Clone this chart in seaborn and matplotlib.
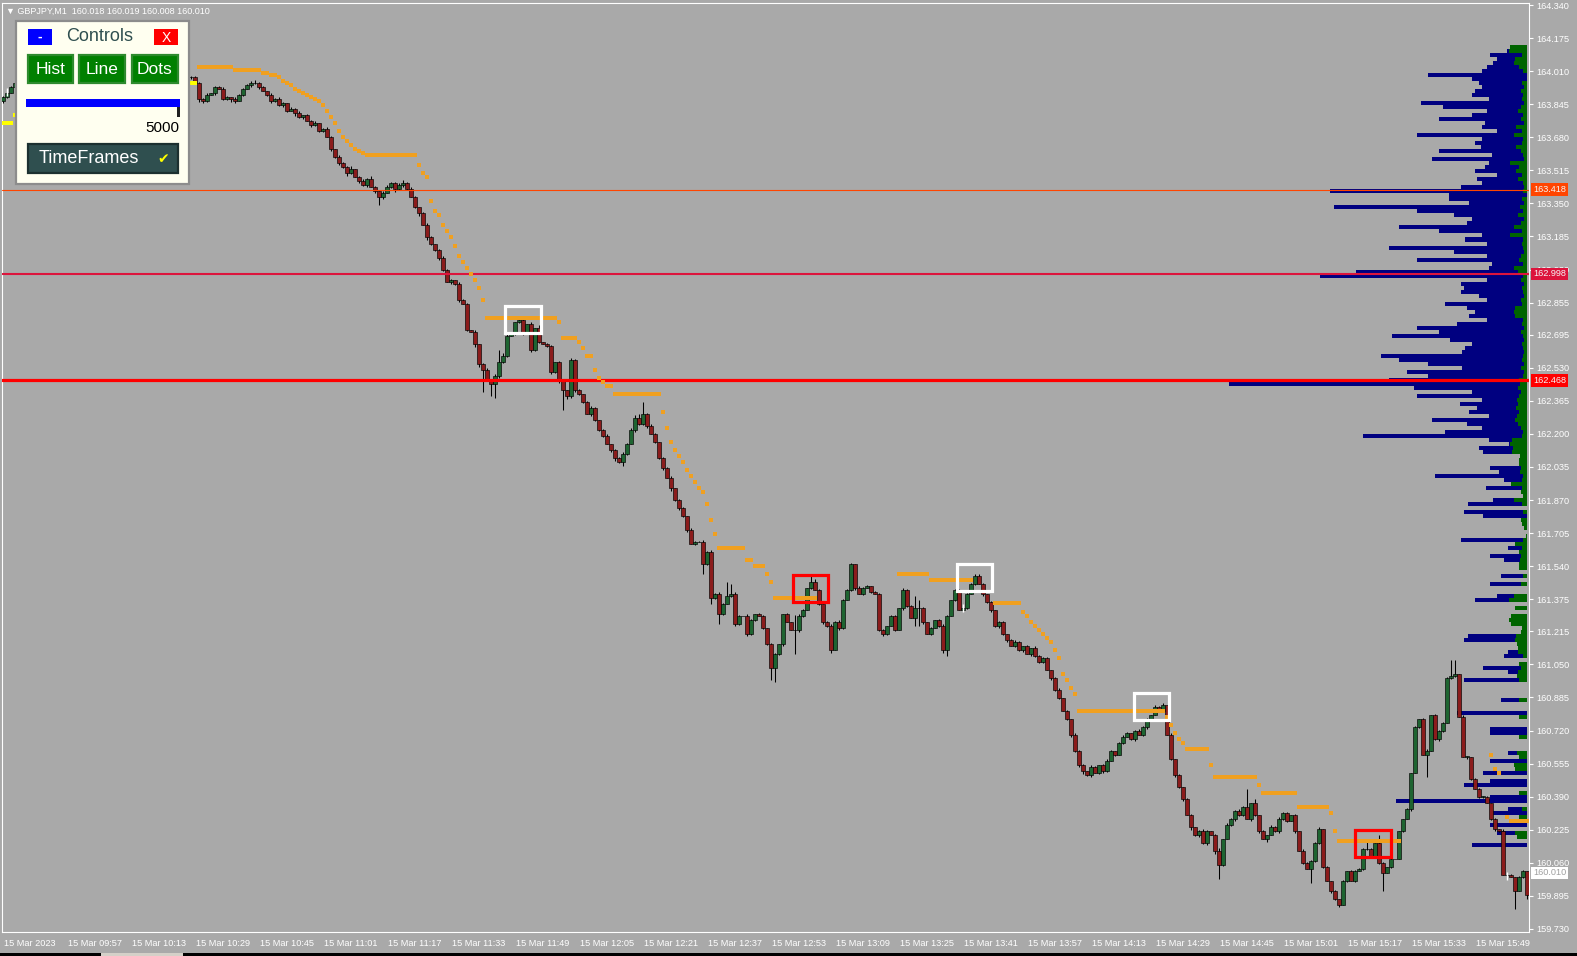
import numpy as np
import matplotlib
matplotlib.use('Agg')
import matplotlib.pyplot as plt
import matplotlib.transforms as mtransforms
from matplotlib.patches import Rectangle
import seaborn as sns

# ---- data (GBPJPY M1, 15 Mar 2023, bar 0 = 09:41) ----
closes = [
    163.88, 163.90, 163.93, 163.95, 163.96, 163.98, 163.97, 164.00, 164.02, 164.01,
    164.03, 164.05, 164.04, 164.06, 164.08, 164.07, 164.05, 164.06, 164.08, 164.10,
    164.09, 164.07, 164.08, 164.06, 164.05, 164.07, 164.09, 164.08, 164.06, 164.04,
    164.05, 164.03, 164.02, 164.04, 164.05, 164.03, 164.01, 164.02, 164.04, 164.03,
    164.01, 164.00, 164.02, 164.03, 164.01, 164.00, 163.98, 163.98, 163.95, 163.87,
    163.86, 163.89, 163.90, 163.93, 163.92, 163.87, 163.88, 163.87, 163.86, 163.89,
    163.92, 163.94, 163.95, 163.95, 163.93, 163.91, 163.89, 163.86, 163.87, 163.84,
    163.85, 163.81, 163.82, 163.80, 163.78, 163.79, 163.76, 163.74, 163.75, 163.71,
    163.72, 163.68, 163.62, 163.58, 163.55, 163.53, 163.50, 163.52, 163.48, 163.46,
    163.44, 163.47, 163.43, 163.41, 163.38, 163.40, 163.43, 163.45, 163.42, 163.44,
    163.45, 163.42, 163.38, 163.33, 163.30, 163.24, 163.18, 163.15, 163.12, 163.08,
    163.02, 162.96, 162.97, 162.95, 162.87, 162.85, 162.72, 162.71, 162.65, 162.55,
    162.52, 162.47, 162.45, 162.49, 162.56, 162.59, 162.69, 162.70, 162.76, 162.77,
    162.70, 162.75, 162.62, 162.73, 162.66, 162.65, 162.64, 162.51, 162.56, 162.47,
    162.42, 162.39, 162.57, 162.42, 162.40, 162.36, 162.30, 162.33, 162.27, 162.22,
    162.19, 162.15, 162.12, 162.08, 162.06, 162.10, 162.15, 162.22, 162.28, 162.25,
    162.30, 162.24, 162.20, 162.16, 162.08, 162.03, 161.98, 161.93, 161.87, 161.83,
    161.79, 161.72, 161.65, 161.66, 161.66, 161.55, 161.61, 161.38, 161.40, 161.30,
    161.35, 161.39, 161.40, 161.25, 161.29, 161.29, 161.20, 161.27, 161.30, 161.29,
    161.23, 161.15, 161.03, 161.10, 161.15, 161.30, 161.26, 161.22, 161.22, 161.29,
    161.32, 161.43, 161.46, 161.42, 161.35, 161.26, 161.24, 161.12, 161.26, 161.23,
    161.37, 161.42, 161.55, 161.43, 161.40, 161.43, 161.44, 161.41, 161.40, 161.22,
    161.20, 161.24, 161.29, 161.22, 161.33, 161.42, 161.34, 161.28, 161.33, 161.33,
    161.26, 161.20, 161.23, 161.27, 161.24, 161.12, 161.29, 161.37, 161.42, 161.32,
    161.33, 161.40, 161.45, 161.49, 161.45, 161.40, 161.36, 161.32, 161.24, 161.26,
    161.20, 161.17, 161.14, 161.16, 161.12, 161.14, 161.10, 161.13, 161.09, 161.06,
    161.08, 161.02, 160.98, 160.92, 160.88, 160.82, 160.78, 160.70, 160.62, 160.55,
    160.52, 160.50, 160.54, 160.51, 160.55, 160.52, 160.57, 160.62, 160.60, 160.66,
    160.69, 160.71, 160.68, 160.72, 160.70, 160.74, 160.78, 160.80, 160.84, 160.82,
    160.85, 160.70, 160.58, 160.50, 160.44, 160.38, 160.30, 160.24, 160.20, 160.22,
    160.16, 160.22, 160.20, 160.12, 160.05, 160.18, 160.25, 160.28, 160.32, 160.30,
    160.34, 160.28, 160.36, 160.30, 160.22, 160.18, 160.20, 160.24, 160.22, 160.28,
    160.31, 160.27, 160.30, 160.22, 160.12, 160.06, 160.03, 160.07, 160.16, 160.23,
    160.04, 159.97, 159.92, 159.88, 159.85, 159.97, 160.02, 159.97, 160.02, 160.03,
    160.13, 160.13, 160.09, 160.16, 160.06, 160.01, 160.04, 160.08, 160.08, 160.22,
    160.28, 160.33, 160.51, 160.74, 160.78, 160.60, 160.62, 160.80, 160.68, 160.72,
    160.76, 160.98, 160.99, 161.00, 160.79, 160.59, 160.59, 160.48, 160.43, 160.39,
    160.39, 160.36, 160.28, 160.23, 160.22, 160.00, 160.00, 159.99, 159.92, 159.99,
    160.02, 159.90,
]
first_open = 163.86

# wick lengths per bar in half-pip ticks (0.005), base-36 digits
wick_up = [
    "1211021312", "2101320121", "1021310212", "0121021301", "2110213111",
    "1201121021", "1123110212", "1021201120", "1210211301", "2131022112",
    "3121012101", "2110211020", "1212c32101", "1020301101", "1021101210",
    "1201121234", "c121011201", "1021121212", "1ea2102101", "10110010f2",
    "1083101212", "1110211011", "10110211c8", "1010121011", "1112210101",
    "1012101021", "1101201021", "1021012101", "2101211021", "1020101101",
    "2101302112", "1i04010212", "1101021112", "0101010111", "1a10810100",
    "0101012011", "11ge021011", "1101021101", "10",
]
wick_dn = [
    "2102130211", "1203102130", "2110203121", "1302112020", "1201120213",
    "2102011320", "1021201211", "2103120211", "1021213102", "1202820131",
    "2101302112", "1021201033", "m1ce211011", "1021101213", "k322110211",
    "1023141021", "1201120312", "12010a161a", "1012102110", "11ce1200o2",
    "1010121302", "1012010101", "210102108i", "2010136010", "1101021212",
    "1201120211", "1021101212", "3120121010", "1012012101", "1012120312",
    "1203e10121", "1021203012", "1102010e11", "1021201010", "11011i0100",
    "102010m012", "1011002101", "10121010i0", "14",
]

# trailing-stop dots: (first bar, last bar, price)
trail_runs = [
    (49, 57, 164.030), (58, 64, 164.015), (65, 66, 164.000), (67, 68, 163.990),
    (69, 69, 163.980), (70, 70, 163.960), (71, 71, 163.950), (72, 72, 163.940),
    (73, 73, 163.920), (74, 74, 163.910), (75, 75, 163.900), (76, 76, 163.890),
    (77, 77, 163.880), (78, 78, 163.870), (79, 79, 163.860), (80, 80, 163.840),
    (81, 81, 163.810), (82, 82, 163.780), (83, 83, 163.750), (84, 84, 163.710),
    (85, 85, 163.680), (86, 86, 163.660), (87, 87, 163.640), (88, 88, 163.620),
    (89, 89, 163.610), (90, 90, 163.600), (91, 103, 163.590), (104, 104, 163.540),
    (105, 105, 163.500), (106, 106, 163.480), (107, 107, 163.360), (108, 108, 163.310),
    (109, 109, 163.290), (110, 110, 163.240), (111, 111, 163.210), (112, 112, 163.180),
    (113, 113, 163.140), (114, 114, 163.090), (115, 115, 163.060), (116, 116, 163.030),
    (117, 117, 163.000), (118, 118, 162.970), (119, 119, 162.930), (120, 120, 162.870),
    (121, 138, 162.778), (139, 139, 162.760), (140, 143, 162.680), (144, 144, 162.660),
    (145, 145, 162.630), (146, 147, 162.590), (148, 148, 162.520), (149, 149, 162.480),
    (150, 150, 162.460), (151, 152, 162.440), (153, 164, 162.400), (165, 165, 162.310),
    (166, 166, 162.230), (167, 167, 162.160), (168, 168, 162.120), (169, 169, 162.090),
    (170, 170, 162.060), (171, 171, 162.020), (172, 172, 161.990), (173, 173, 161.960),
    (174, 174, 161.930), (175, 175, 161.910), (176, 176, 161.850), (177, 177, 161.770),
    (178, 178, 161.700), (179, 185, 161.630), (186, 187, 161.570), (188, 190, 161.540),
    (191, 191, 161.500), (192, 192, 161.460), (193, 203, 161.380), (224, 231, 161.500),
    (232, 242, 161.470), (248, 254, 161.355), (255, 255, 161.310), (256, 256, 161.290),
    (257, 257, 161.260), (258, 258, 161.240), (259, 259, 161.220), (260, 260, 161.200),
    (261, 261, 161.180), (262, 262, 161.160), (263, 263, 161.120), (264, 264, 161.080),
    (265, 265, 161.000), (266, 266, 160.970), (267, 267, 160.930), (268, 268, 160.900),
    (269, 290, 160.820), (291, 291, 160.790), (292, 292, 160.750), (293, 293, 160.710),
    (294, 294, 160.680), (295, 295, 160.660), (296, 301, 160.630), (302, 302, 160.550),
    (303, 313, 160.490), (314, 314, 160.450), (315, 323, 160.410), (324, 331, 160.340),
    (332, 332, 160.310), (333, 333, 160.220), (334, 349, 160.168), (372, 372, 160.600),
    (373, 373, 160.530), (374, 374, 160.510), (376, 376, 160.290), (377, 381, 160.270),
]
support_runs = [(0, 2, 163.750), (3, 3, 163.790), (47, 48, 163.950)]

# volume profile, rows of 0.02 from 164.13 downwards
profile_top = 164.13
profile_step = 0.02
profile_navy = [
    15, 20, 37, 30, 34, 40, 45, 99, 55, 48, 45, 52, 55, 38, 106, 84, 40, 55, 88, 42,
    45, 30, 110, 45, 52, 46, 88, 35, 95, 38, 42, 52, 30, 50, 45, 66, 197, 78, 78, 58,
    193, 110, 73, 55, 60, 128, 88, 45, 62, 40, 138, 73, 40, 110, 35, 38, 171, 207, 40, 66,
    63, 66, 48, 40, 82, 60, 52, 58, 40, 70, 110, 88, 135, 77, 55, 62, 65, 146, 128, 99,
    65, 120, 99, 138, 298, 113, 55, 110, 45, 67, 50, 58, 38, 95, 60, 45, 82, 164, 38, 18,
    48, 44, 0, 0, 0, 37, 28, 92, 23, 0, 41, 0, 0, 34, 59, 0, 63, 44, 0, 0,
    0, 0, 0, 66, 0, 19, 0, 37, 23, 0, 0, 0, 26, 0, 37, 0, 0, 30, 52, 0,
    0, 0, 0, 0, 0, 0, 0, 59, 63, 0, 0, 19, 23, 0, 0, 44, 19, 0, 63, 0,
    0, 0, 0, 26, 0, 0, 70, 0, 0, 0, 37, 37, 0, 0, 0, 0, 19, 0, 37, 0,
    0, 44, 0, 37, 63, 0, 0, 37, 131, 0, 19, 35, 0, 0, 37, 0, 30, 0, 0, 55,
]
profile_green = [
    17, 18, 5, 12, 13, 8, 4, 0, 0, 5, 3, 6, 4, 5, 3, 6, 9, 4, 6, 3,
    11, 5, 13, 4, 5, 11, 6, 4, 3, 17, 8, 11, 5, 9, 4, 3, 4, 0, 5, 3,
    7, 4, 9, 3, 6, 13, 5, 17, 4, 5, 4, 3, 6, 8, 4, 13, 9, 4, 6, 3,
    5, 4, 3, 6, 5, 12, 13, 12, 4, 5, 3, 6, 4, 3, 5, 4, 3, 4, 5, 3,
    6, 3, 4, 8, 7, 9, 6, 8, 10, 9, 11, 8, 10, 12, 9, 6, 4, 5, 15, 17,
    14, 15, 7, 8, 8, 6, 7, 4, 5, 16, 5, 6, 4, 13, 5, 0, 4, 0, 6, 5,
    3, 0, 1, 4, 12, 5, 8, 6, 7, 8, 8, 0, 4, 0, 6, 0, 0, 13, 18, 0,
    12, 0, 16, 18, 16, 5, 6, 11, 12, 10, 9, 9, 4, 0, 8, 6, 9, 10, 8, 0,
    0, 0, 0, 8, 0, 0, 0, 8, 0, 0, 0, 0, 8, 0, 0, 0, 10, 8, 0, 13,
    12, 0, 0, 0, 0, 0, 8, 0, 0, 0, 5, 0, 8, 6, 0, 0, 12, 10, 0, 0,
]

level_prices = [163.418, 162.998, 162.468]
level_colors = ['#FF4500', '#DC143C', '#FF0000']
level_widths = [0.8, 1.5, 2.3]
last_price = 160.010

signal_bars = [130.0, 242.8, 287.2, 201.8, 342.5]
signal_prices = [162.770, 161.483, 160.840, 161.428, 160.156]
signal_colors = ['white', 'white', 'white', '#FF0000', '#FF0000']

mark_bars = [1, 240, 376]
mark_prices = [163.905, 161.330, 159.995]

price_ticks = [164.340, 164.175, 164.010, 163.845, 163.680, 163.515, 163.350, 163.185,
               163.020, 162.855, 162.695, 162.530, 162.365, 162.200, 162.035, 161.870,
               161.705, 161.540, 161.375, 161.215, 161.050, 160.885, 160.720, 160.555,
               160.390, 160.225, 160.060, 159.895, 159.730]
time_ticks = ['09:41', '09:57', '10:13', '10:29', '10:45', '11:01', '11:17', '11:33',
              '11:49', '12:05', '12:21', '12:37', '12:53', '13:09', '13:25', '13:41',
              '13:57', '14:13', '14:29', '14:45', '15:01', '15:17', '15:33', '15:49']

# ---- style ----
BG = '#A9A9A9'
GREEN = '#1E6431'
RED = '#8B1C1C'
sns.set_style('dark', {'axes.facecolor': BG, 'figure.facecolor': BG})
plt.rcParams['font.family'] = ['Liberation Sans', 'DejaVu Sans']

W, H = 1577, 956
L, R, T, B = 2, 1529, 3, 932
PX = 200.43  # pixels per price unit
fig = plt.figure(figsize=(W / 100, H / 100), dpi=100, facecolor=BG)
ax = fig.add_axes([L / W, 1 - B / H, (R - L) / W, (B - T) / H])
ax.set_facecolor(BG)
ax.set_xlim((L - 3) / 4, (R - 3) / 4)
ax.set_ylim(164.34 - (B - 5) / PX, 164.34 + (5 - T) / PX)
xmax = ax.get_xlim()[1]

# candles
n = len(closes)
c = np.array(closes)
o = np.r_[first_open, c[:-1]]
up = np.array([int(ch, 36) for ch in "".join(wick_up).ljust(n, '1')[:n]]) * 0.005
dn = np.array([int(ch, 36) for ch in "".join(wick_dn).ljust(n, '1')[:n]]) * 0.005
hi = np.maximum(o, c) + up
lo = np.minimum(o, c) - dn
x = np.arange(n)
cols = [GREEN if cc >= oo else RED for oo, cc in zip(o, c)]
ax.vlines(x, lo, hi, color='black', lw=0.75, zorder=3)
ax.bar(x, np.maximum(np.abs(c - o), 0.0015), bottom=np.minimum(o, c), width=0.86,
       color=cols, edgecolor='black', linewidth=0.45, zorder=3.2)

# volume profile (right aligned)
rows = profile_top - profile_step * np.arange(len(profile_navy))
navy = np.array(profile_navy) / 4.0
green = np.array(profile_green) / 4.0
ax.barh(rows, navy, left=xmax - 0.4 - navy, height=profile_step, color='#000080',
        linewidth=0, zorder=1)
ax.barh(rows, green, left=xmax - 0.4 - green, height=profile_step, color='#006400',
        linewidth=0, zorder=1.1)

# level lines
for p, col, lw in zip(level_prices, level_colors, level_widths):
    ax.axhline(p, color=col, lw=lw, zorder=4.5)

# trailing dots
tx, ty = [], []
for a, b, p in trail_runs:
    for i in range(a, b + 1):
        tx.append(i)
        ty.append(p)
sx, sy = [], []
for a, b, p in support_runs:
    for i in range(a, b + 1):
        sx.append(i)
        sy.append(p)
sns.scatterplot(x=tx, y=ty, ax=ax, marker='s', s=5, color='#F0A020', linewidth=0, zorder=5)
sns.scatterplot(x=sx, y=sy, ax=ax, marker='s', s=5, color='#FFFF00', linewidth=0, zorder=5)
ax.plot(mark_bars, mark_prices, ls='none', marker='|', ms=6, mew=1, color='white', zorder=5)

# signal boxes
for bx, by, col in zip(signal_bars, signal_prices, signal_colors):
    ax.add_patch(Rectangle((bx - 4.4, by - 0.067), 8.8, 0.134, fill=False, ec=col,
                           lw=2.3, zorder=6))

# axes, ticks
for s in ax.spines.values():
    s.set_color('white')
    s.set_linewidth(0.8)
ax.grid(False)
ax.yaxis.tick_right()
ax.set_yticks(price_ticks)
ax.set_yticklabels([f'{v:.3f}' for v in price_ticks])
tb = [(int(t[:2]) - 9) * 60 + int(t[3:]) - 41 for t in time_ticks]
ax.set_xticks(tb)
ax.set_xticklabels(['15 Mar 2023'] + ['15 Mar ' + t for t in time_ticks[1:]], ha='left')
ax.tick_params(axis='both', colors='white', labelcolor='white', labelsize=6.6,
               length=3, width=0.8, direction='out')
ax.tick_params(axis='y', pad=2)
ax.tick_params(axis='x', pad=2)
shift = mtransforms.ScaledTranslation(1.5 / 100, 0, fig.dpi_scale_trans)
for lab in ax.get_xticklabels():
    lab.set_transform(lab.get_transform() + shift)
ax.set_xlabel('')
ax.set_ylabel('')

# price labels on the right axis
btr = mtransforms.blended_transform_factory(ax.transAxes, ax.transData)
for p, col in zip(level_prices, level_colors):
    ax.text(1 + 4 / (R - L), p, f'{p:.3f}', transform=btr, ha='left', va='center',
            fontsize=6.6, color='#F5F5F5', clip_on=False, zorder=10,
            bbox=dict(boxstyle='square,pad=0.2', fc=col, ec='none'))
ax.text(1 + 4 / (R - L), last_price, f'{last_price:.3f}', transform=btr, ha='left',
        va='center', fontsize=6.6, color='#A0A0A0', clip_on=False, zorder=10,
        bbox=dict(boxstyle='square,pad=0.2', fc='white', ec='none'))

# ---- overlay: header text and Controls panel (pixel coordinates) ----
ov = fig.add_axes([0, 0, 1, 1], zorder=10)
ov.set_xlim(0, W)
ov.set_ylim(H, 0)
ov.axis('off')
ov.patch.set_alpha(0)
ov.text(6, 11, '\u25bc GBPJPY,M1  160.018 160.019 160.008 160.010', color='white',
        fontsize=6.5, va='center', ha='left', family=['Liberation Sans', 'DejaVu Sans'])

ov.add_patch(Rectangle((16, 21), 173, 163, fc='#FFFFF0', ec='#8C8C8C', lw=1.6))
ov.add_patch(Rectangle((28, 29), 24, 16, fc='#0000FF', ec='none'))
ov.text(40, 36.5, '-', color='white', fontsize=10, ha='center', va='center', weight='bold')
ov.text(100, 36, 'Controls', color='#2F4F4F', fontsize=13, ha='center', va='center')
ov.add_patch(Rectangle((154, 29), 24, 16, fc='#FF0000', ec='none'))
ov.text(166, 37.5, 'X', color='white', fontsize=10, ha='center', va='center')
for x0, x1, lab in [(28, 73, 'Hist'), (79, 125, 'Line'), (132, 178, 'Dots')]:
    ov.add_patch(Rectangle((x0, 55), x1 - x0, 28, fc='#008000', ec='#2E8B2E', lw=1.6))
    ov.text((x0 + x1) / 2, 69.5, lab, color='white', fontsize=12.5, ha='center', va='center')
ov.add_patch(Rectangle((26, 99), 154, 8, fc='#0000FF', ec='none'))
ov.add_patch(Rectangle((177, 107), 3, 10, fc='#202020', ec='none'))
ov.text(179, 128, '5000', color='black', fontsize=11, ha='right', va='center')
ov.add_patch(Rectangle((28, 144), 150, 29, fc='#2F4F4F', ec='#1C3030', lw=1.6))
ov.text(39, 158.5, 'TimeFrames', color='white', fontsize=13, ha='left', va='center')
ov.text(163, 159, '\u2714', color='#FFFF00', fontsize=10, ha='center', va='center',
        family=['DejaVu Sans'])

ov.add_patch(Rectangle((0, 953), W, 3, fc='black', ec='none'))
ov.add_patch(Rectangle((101, 953), 82, 3, fc='#D4D0C8', ec='none'))

fig.savefig('out.png', dpi=100, facecolor=BG)
